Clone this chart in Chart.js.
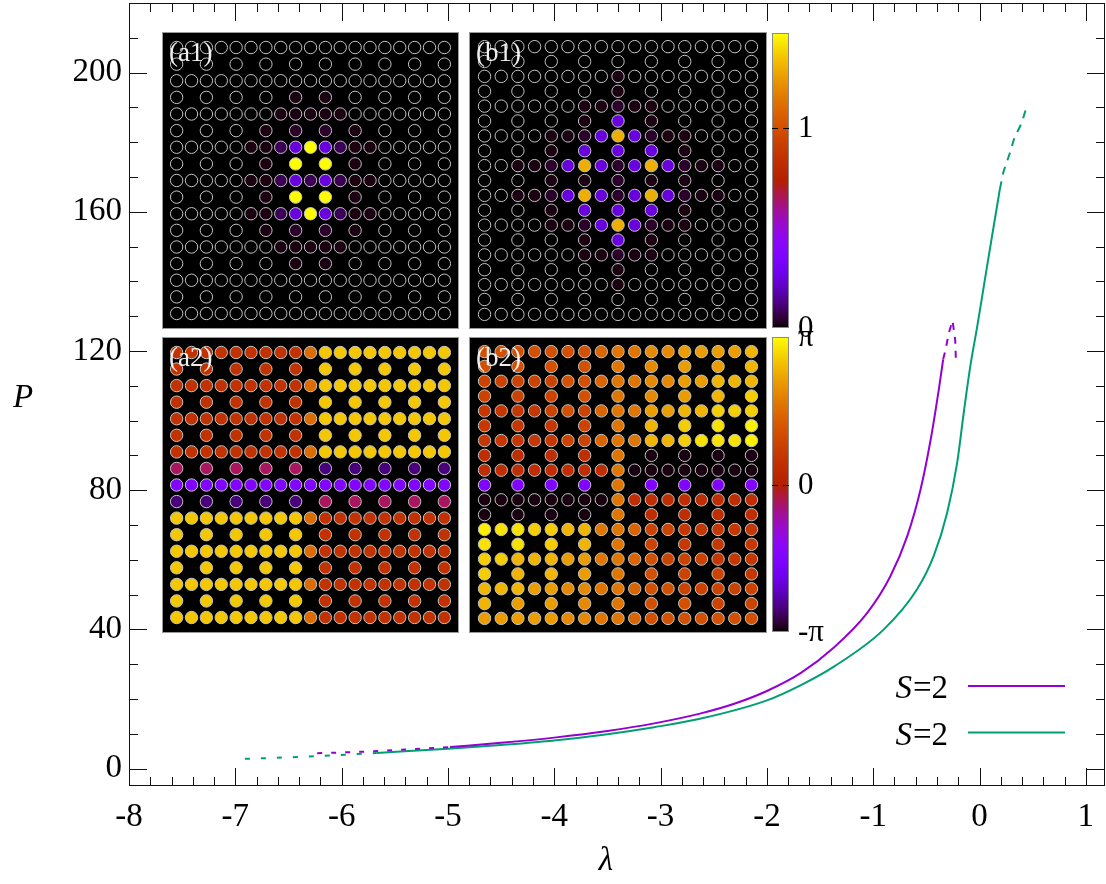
<!DOCTYPE html>
<html><head><meta charset="utf-8">
<script src="https://cdn.jsdelivr.net/npm/chart.js@4.4.1/dist/chart.umd.min.js"></script>
<style>
html,body{margin:0;padding:0;background:#fff;}
#wrap{position:relative;width:1106px;height:884px;overflow:hidden;background:#fff;}
canvas{position:absolute;display:block;}
</style></head><body>
<div id="wrap">
<canvas id="main" width="1106" height="884" style="left:0;top:0"></canvas>
<canvas id="a1" width="297" height="297" style="left:162px;top:32px"></canvas>
<canvas id="b1" width="298" height="297" style="left:469px;top:32px"></canvas>
<canvas id="a2" width="297" height="296" style="left:162px;top:337px"></canvas>
<canvas id="b2" width="298" height="296" style="left:469px;top:337px"></canvas>
<canvas id="cb1" width="90" height="335" style="left:772px;top:13px"></canvas>
<canvas id="cb2" width="90" height="335" style="left:772px;top:317px"></canvas>
</div>
<script>
// ---------------- DATA ----------------
const xMajorTicks = [-8,-7,-6,-5,-4,-3,-2,-1,0,1];
const xMinorPerMajor = 5;
const yMajorTicks = [0,40,80,120,160,200];
const yTicks = [0,10,20,30,40,50,60,70,80,90,100,110,120,130,140,150,160,170,180,190,200,210];

// series 1 (purple), S=2
const s1DashLowX = [-6.23,-5.76,-5.32,-4.98];
const s1DashLowP = [4.4,4.9,5.6,6.2];
const s1SolidX = [-4.98,-4.5,-4.0,-3.5,-3.06,-2.63,-2.3,-2.0,-1.68,-1.37,-1.06,-0.84,-0.68,-0.555,-0.46,-0.383,-0.342];
const s1SolidP = [6.2,7.4,8.9,10.8,13.0,15.8,18.7,22.3,27.5,34.8,44.6,55.2,66.8,80.2,94.5,109.0,117.6];
const s1DashTopX = [-0.342,-0.32,-0.29,-0.254,-0.229,-0.223];
const s1DashTopP = [117.6,120.3,125.1,128.7,123.2,117.9];

// series 2 (green), S=2
const s2DashLowX = [-6.91,-6.42,-5.97,-5.67];
const s2DashLowP = [2.8,3.3,4.0,4.5];
const s2SolidX = [-5.67,-5.0,-4.5,-4.0,-3.5,-3.06,-2.63,-2.0,-1.68,-1.37,-0.9,-0.586,-0.43,-0.304,-0.21,-0.148,-0.085,-0.022,0.072,0.191];
const s2SolidP = [4.5,5.7,6.8,8.1,9.9,11.9,14.3,19.6,24.0,29.3,40.0,51.6,61.2,73.6,88.0,102.4,116.0,127.0,144.6,166.5];
const s2DashTopX = [0.191,0.225,0.282,0.329,0.395,0.445];
const s2DashTopP = [166.5,171.5,176.6,181.4,185.4,190.4];

const legendLabels = ['S=2','S=2'];

// inset amplitude levels (colorbar 0 .. 1.475)
const ampRange = [0, 1.475];
const ampLevels = {'.':0, '1':0.015, '2':0.04, '3':0.08, '4':0.25, '5':1.3, '6':1.47};
// '-' = no lattice site
const a1Rows = [
"...................",
".-.-.-.-.-.-.-.-.-.",
"...................",
".-.-.-.-1-1-.-.-.-.",
".......11111.......",
".-.-.-1-2-2-1-.-.-.",
".....113464311.....",
".-.-.-1-6-6-1-.-.-.",
".....113434311.....",
".-.-.-1-6-6-1-.-.-.",
".....113464311.....",
".-.-.-1-2-2-1-.-.-.",
".......11111.......",
".-.-.-.-1-1-.-.-.-.",
"...................",
".-.-.-.-.-.-.-.-.-.",
"..................."
];
const b1Rows = [
".................",
".-.-.-.-.-.-.-.-.",
"........1........",
".-.-.-.-1-.-.-.-.",
"......11211......",
".-.-.-1-4-1-.-.-.",
"....112454211....",
".-.-1-4-4-4-1-.-.",
"..1124542454211..",
".-.-1-1-2-1-1-.-.",
"..1124542454211..",
".-.-1-4-4-4-1-.-.",
"....112454211....",
".-.-.-1-4-1-.-.-.",
"......11211......",
".-.-.-.-1-.-.-.-.",
"........1........",
".-.-.-.-.-.-.-.-.",
"................."
];

// inset phase levels (colorbar -pi .. pi)
const phaseRange = [-Math.PI, Math.PI];
const phaseLevels = {
  R:0.50, O:1.57, G:2.64, M:-0.38, D:-2.64, P:-1.57,
  k:-3.08, p:-1.57, r:0.38, s:0.63, t:0.88, u:1.13, v:1.45, w:1.70, x:1.95, y:2.20, z:2.45, Z:2.70, Y:2.89, X:3.02
};
const a2Rows = [
"RRRRRRRRROGGGGGGGGG",
"R-R-R-R-R-G-G-G-G-G",
"RRRRRRRRROGGGGGGGGG",
"R-R-R-R-R-G-G-G-G-G",
"RRRRRRRRROGGGGGGGGG",
"R-R-R-R-R-G-G-G-G-G",
"RRRRRRRRROGGGGGGGGG",
"M-M-M-M-M-D-D-D-D-D",
"PPPPPPPPPPPPPPPPPPP",
"D-D-D-D-D-M-M-M-M-M",
"GGGGGGGGGORRRRRRRRR",
"G-G-G-G-G-R-R-R-R-R",
"GGGGGGGGGORRRRRRRRR",
"G-G-G-G-G-R-R-R-R-R",
"GGGGGGGGGORRRRRRRRR",
"G-G-G-G-G-R-R-R-R-R",
"GGGGGGGGGORRRRRRRRR"
];
const b2Rows = [
"uuuuuuuvwwxxyyyyz",
"u-u-u-u-w-x-y-y-z",
"tttttuuvwwxxyyzzz",
"t-t-t-u-w-x-y-z-Z",
"sssstutvwwyyzzZZZ",
"s-s-s-t-w-z-Z-Y-X",
"sssssttvwwzzZYYYX",
"r-r-r-r-w-k-k-k-k",
"rrrrrrrrwkkkkkkkk",
"p-p-p-p-w-p-p-p-p",
"kkkkkkkkwrrrrrrrr",
"k-k-k-k-w-r-r-r-r",
"XYYZZzzwwvttsssss",
"Y-Y-Z-z-w-t-s-s-s",
"ZZzzzyywwvutttsss",
"Z-z-z-y-w-u-t-t-s",
"zzzyyxxwwvuuttttt",
"z-y-y-x-w-u-u-t-t",
"yyyyyxxwwvuuuuuuu"
];

const cb1Ticks = [0, 1];
const cb1Labels = ['0', '1'];
const cb2Ticks = [-Math.PI, 0, Math.PI];
const cb2Labels = ['-π', '0', 'π'];

// ---------------- STYLE / HELPERS ----------------
const C1 = '#9400d3', C2 = '#009e73';
const SERIF = '"Liberation Serif", "DejaVu Serif", serif';

function palette(t){
  t = Math.min(1, Math.max(0, t));
  const r = Math.sqrt(t), g = t*t*t, b = Math.max(0, Math.sin(2*Math.PI*t));
  return 'rgb(' + Math.round(r*255) + ',' + Math.round(g*255) + ',' + Math.round(b*255) + ')';
}
function toPts(xs, ps){ return xs.map((x,i)=>({x:x, y:ps[i]})); }

function xTickList(){
  const out = [];
  for (let i = 0; i < xMajorTicks.length; i++){
    out.push(xMajorTicks[i]);
    if (i < xMajorTicks.length - 1){
      const a = xMajorTicks[i], b = xMajorTicks[i+1];
      for (let k = 1; k < xMinorPerMajor; k++) out.push(Math.round((a + (b-a)*k/xMinorPerMajor)*1000)/1000);
    }
  }
  return out;
}

const lineDS = (data, color, dash, mono) => ({
  data: data, borderColor: color, backgroundColor: color, borderWidth: 2,
  showLine: true, pointRadius: 0, pointHoverRadius: 0, fill: false,
  borderDash: dash || [], cubicInterpolationMode: mono ? 'monotone' : 'default', tension: 0
});

const frameTicks = {
  id: 'frameTicks',
  afterDraw(chart){
    const ctx = chart.ctx, ca = chart.chartArea;
    const xs = chart.scales.x, ys = chart.scales.y;
    ctx.save();
    ctx.strokeStyle = '#111'; ctx.lineWidth = 1;
    ctx.strokeRect(Math.round(ca.left)+0.5, Math.round(ca.top)+0.5, Math.round(ca.width)-1, Math.round(ca.height)-1);
    ctx.beginPath();
    xTickList().forEach(v => {
      const px = Math.round(xs.getPixelForValue(v)) + 0.5;
      const L = xMajorTicks.includes(v) ? 18 : 9;
      ctx.moveTo(px, ca.bottom); ctx.lineTo(px, ca.bottom - L);
      ctx.moveTo(px, ca.top); ctx.lineTo(px, ca.top + L);
    });
    yTicks.forEach(v => {
      const py = Math.round(ys.getPixelForValue(v)) + 0.5;
      const L = yMajorTicks.includes(v) ? 18 : 9;
      ctx.moveTo(ca.left, py); ctx.lineTo(ca.left + L, py);
      ctx.moveTo(ca.right, py); ctx.lineTo(ca.right - L, py);
    });
    ctx.stroke();
    // axis titles
    ctx.fillStyle = '#000';
    ctx.font = 'italic 33px ' + SERIF;
    ctx.textAlign = 'center'; ctx.textBaseline = 'middle';
    ctx.fillText('P', 23, 398);
    ctx.fillText('λ', 606, 861);
    // legend
    const entries = [[legendLabels[0], C1, 698, 686], [legendLabels[1], C2, 745, 732.5]];
    entries.forEach(e => {
      const parts = e[0].split('=');
      ctx.textBaseline = 'alphabetic'; ctx.textAlign = 'left';
      ctx.font = '33px ' + SERIF;
      const rest = '=' + parts[1];
      const wRest = ctx.measureText(rest).width;
      ctx.font = 'italic 33px ' + SERIF;
      const wS = ctx.measureText(parts[0]).width;
      const x0 = 947 - wRest - wS;
      ctx.fillText(parts[0], x0, e[2]);
      ctx.font = '33px ' + SERIF;
      ctx.fillText(rest, x0 + wS + 1, e[2]);
      ctx.strokeStyle = e[1]; ctx.lineWidth = 2; ctx.setLineDash([]);
      ctx.beginPath(); ctx.moveTo(968, e[3]); ctx.lineTo(1065, e[3]); ctx.stroke();
    });
    ctx.restore();
  }
};

new Chart(document.getElementById('main'), {
  type: 'scatter',
  data: { datasets: [
    lineDS(toPts(s1SolidX, s1SolidP), C1, null, true),
    lineDS(toPts(s1DashLowX, s1DashLowP), C1, [5,9], false),
    lineDS(toPts(s1DashTopX, s1DashTopP), C1, [7,7], false),
    lineDS(toPts(s2SolidX, s2SolidP), C2, null, true),
    lineDS(toPts(s2DashLowX, s2DashLowP), C2, [5,11], false),
    lineDS(toPts(s2DashTopX, s2DashTopP), C2, [8,7], false)
  ]},
  options: {
    responsive: false, animation: false, devicePixelRatio: 1, events: [],
    layout: { padding: { top: 3, right: 1, left: 0, bottom: 0 } },
    plugins: { legend: { display: false }, tooltip: { enabled: false } },
    scales: {
      x: {
        type: 'linear', min: -8, max: 1.18,
        afterFit(s){ s.height = 98; s.paddingLeft = 0; s.paddingRight = 0; },
        afterBuildTicks(s){ s.ticks = xTickList().map(v => ({value: v})); },
        ticks: { autoSkip: false, maxRotation: 0, padding: 12, color: '#000',
          font: { family: SERIF, size: 33 },
          callback(v){ return xMajorTicks.includes(v) ? String(v) : ''; } },
        grid: { display: false, drawTicks: false }, border: { display: false }
      },
      y: {
        type: 'linear', min: -5, max: 220,
        afterFit(s){ s.width = 129; s.paddingTop = 0; s.paddingBottom = 0; },
        afterBuildTicks(s){ s.ticks = yTicks.map(v => ({value: v})); },
        ticks: { autoSkip: false, padding: 7, color: '#000',
          font: { family: SERIF, size: 33 },
          callback(v){ return yMajorTicks.includes(v) ? String(v) : ''; } },
        grid: { display: false, drawTicks: false }, border: { display: false }
      }
    }
  },
  plugins: [frameTicks]
});

function makeGrid(id, rows, levels, range, label){
  const pts = [], cols = [];
  rows.forEach((row, r) => {
    row.split('').forEach((ch, c) => {
      if (ch === '-') return;
      const v = levels[ch];
      pts.push({x: c, y: r});
      cols.push(palette((v - range[0]) / (range[1] - range[0])));
    });
  });
  const nC = rows[0].length, nR = rows.length;
  new Chart(document.getElementById(id), {
    type: 'scatter',
    data: { datasets: [{ data: pts, pointRadius: 6.2, pointHoverRadius: 6.2,
      pointBackgroundColor: cols, pointBorderColor: '#c4c4c4', pointBorderWidth: 1 }] },
    options: {
      responsive: false, animation: false, devicePixelRatio: 1, events: [],
      layout: { padding: 0 },
      plugins: { legend: { display: false }, tooltip: { enabled: false } },
      scales: {
        x: { display: false, min: -0.5, max: nC - 0.5 },
        y: { display: false, min: -0.5, max: nR - 0.5, reverse: true }
      }
    },
    plugins: [{
      id: 'panelBg',
      beforeDraw(ch){ const c = ch.ctx; c.save(); c.fillStyle = '#000'; c.fillRect(0,0,ch.width,ch.height); c.restore(); },
      afterDraw(ch){
        const c = ch.ctx; c.save();
        c.strokeStyle = '#9a9a9a'; c.lineWidth = 1;
        c.strokeRect(0.5, 0.5, ch.width - 1, ch.height - 1);
        c.fillStyle = 'rgba(255,255,255,0.93)';
        c.font = '27px ' + SERIF; c.textBaseline = 'alphabetic'; c.textAlign = 'left';
        c.fillText(label, 7, 29);
        c.restore();
      }
    }]
  });
}

makeGrid('a1', a1Rows, ampLevels, ampRange, '(a1)');
makeGrid('b1', b1Rows, ampLevels, ampRange, '(b1)');
makeGrid('a2', a2Rows, phaseLevels, phaseRange, '(a2)');
makeGrid('b2', b2Rows, phaseLevels, phaseRange, '(b2)');

// colorbar: canvas 90 x 335, bar occupies x 0..17, y 20..315 (canvas coords)
function makeColorbar(id, range, ticks, labels){
  new Chart(document.getElementById(id), {
    type: 'scatter',
    data: { datasets: [] },
    options: {
      responsive: false, animation: false, devicePixelRatio: 1, events: [],
      layout: { padding: { top: 20, bottom: 20, left: 0, right: 73 } },
      plugins: { legend: { display: false }, tooltip: { enabled: false } },
      scales: {
        x: { display: false, min: 0, max: 1 },
        y: { display: false, min: range[0], max: range[1] }
      }
    },
    plugins: [{
      id: 'cbar',
      afterDraw(ch){
        const c = ch.ctx, ca = ch.chartArea, ys = ch.scales.y;
        const g = c.createLinearGradient(0, ca.bottom, 0, ca.top);
        for (let i = 0; i <= 64; i++) g.addColorStop(i/64, palette(i/64));
        c.save();
        c.fillStyle = g; c.fillRect(ca.left, ca.top, ca.width, ca.height);
        c.strokeStyle = '#8a8a8a'; c.lineWidth = 1;
        c.strokeRect(ca.left + 0.5, ca.top + 0.5, ca.width - 1, ca.height - 1);
        c.strokeStyle = '#000'; c.beginPath();
        ticks.forEach(v => {
          if (v <= range[0] || v >= range[1]) return;
          const py = Math.round(ys.getPixelForValue(v)) + 0.5;
          c.moveTo(ca.left, py); c.lineTo(ca.left + 6, py);
          c.moveTo(ca.right, py); c.lineTo(ca.right - 6, py);
        });
        c.stroke();
        c.fillStyle = '#000'; c.font = '31px ' + SERIF;
        c.textAlign = 'left'; c.textBaseline = 'middle';
        ticks.forEach((v, i) => { c.fillText(labels[i], ca.right + 9, ys.getPixelForValue(v) + 1); });
        c.restore();
      }
    }]
  });
}
makeColorbar('cb1', ampRange, cb1Ticks, cb1Labels);
makeColorbar('cb2', phaseRange, cb2Ticks, cb2Labels);
</script>
</body></html>
